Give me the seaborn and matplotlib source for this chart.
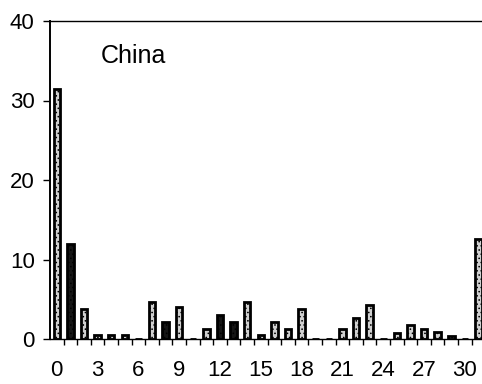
import matplotlib
matplotlib.use("Agg")
import matplotlib.pyplot as plt
import seaborn as sns
import pandas as pd

# Number of cases per category (0 .. 31)
categories = list(range(32))
counts = [31.5, 12.0, 3.8, 0.5, 0.5, 0.5, 0.0, 4.6, 2.1, 4.0,
          0.0, 1.3, 3.0, 2.1, 4.6, 0.5, 2.1, 1.3, 3.8, 0.0,
          0.0, 1.3, 2.6, 4.3, 0.0, 0.7, 1.8, 1.3, 0.9, 0.4,
          0.0, 12.6]
xtick_values = list(range(0, 31, 3))
xtick_labels = [str(v) for v in xtick_values]
ytick_values = [0, 10, 20, 30, 40]
panel_title = "China"

# Categories drawn with the darker fill
dark_categories = {1, 8, 12, 13}

sns.set_style("ticks")
plt.rcParams["font.family"] = ["Liberation Sans", "DejaVu Sans"]
plt.rcParams["hatch.linewidth"] = 0.6
plt.rcParams["text.color"] = "black"
plt.rcParams["xtick.color"] = "black"
plt.rcParams["ytick.color"] = "black"
plt.rcParams["xtick.labelcolor"] = "black"
plt.rcParams["ytick.labelcolor"] = "black"

df = pd.DataFrame({"category": [str(c) for c in categories], "count": counts})
palette = {str(c): ("#151515" if c in dark_categories else "#d0d0d0") for c in categories}

fig = plt.figure(figsize=(4.82, 3.84), dpi=100)
ax = fig.add_axes([50 / 482, 45 / 384, 1 - 50 / 482, 318 / 384])

sns.barplot(data=df, x="category", y="count", hue="category",
            order=[str(c) for c in categories], palette=palette,
            legend=False, width=0.48, edgecolor="black", linewidth=2.0,
            saturation=1, ax=ax)

for patch in ax.patches:
    patch.set_hatch("....")

ax.set_xlim(-0.5, 31.26)
ax.set_ylim(0, 40)
ax.set_xlabel("")
ax.set_ylabel("")

ax.set_xticks(xtick_values)
ax.set_xticklabels(xtick_labels)
ax.set_xticks([c + 0.5 for c in categories[:-1]], minor=True)
ax.set_yticks(ytick_values)

ax.tick_params(axis="x", which="major", length=0, pad=15, labelsize=16)
ax.tick_params(axis="x", which="minor", length=4.5, width=1, direction="out")
ax.tick_params(axis="y", which="major", length=5, width=1, pad=6,
               direction="out", labelsize=16)

for side in ("top", "bottom"):
    ax.spines[side].set_linewidth(1.0)
ax.spines["left"].set_linewidth(1.4)
ax.spines["right"].set_visible(False)
for side in ("top", "left", "bottom"):
    ax.spines[side].set_color("black")

ax.text(0.117, 0.868, panel_title, transform=ax.transAxes,
        fontsize=18, color="black", ha="left", va="baseline")

fig.savefig("out.png", dpi=100)
